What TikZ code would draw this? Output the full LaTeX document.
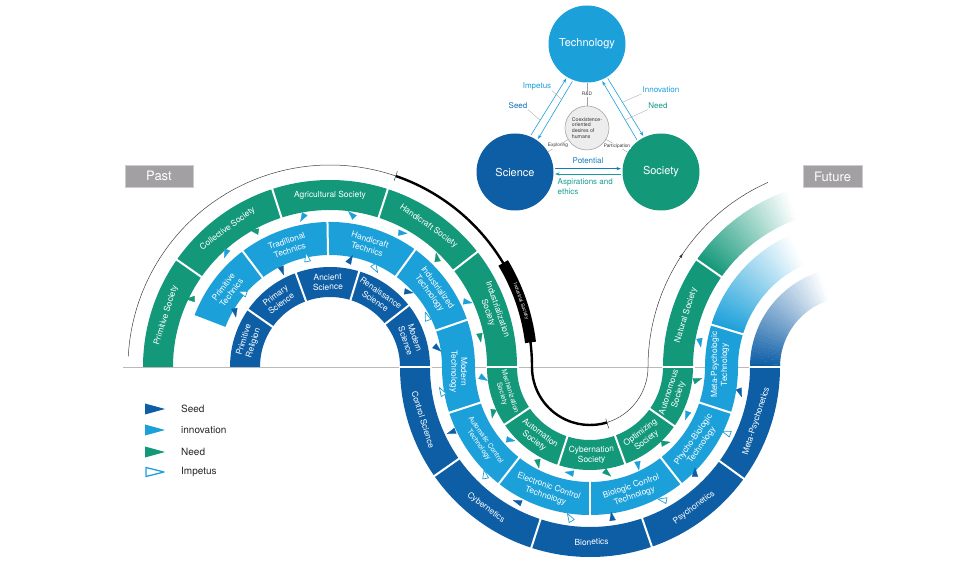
\documentclass[tikz,border=0pt]{standalone}
\usepackage{fontspec}
\setmainfont{TeX Gyre Heros}
\usetikzlibrary{calc,arrows.meta}
\definecolor{socc}{RGB}{20,152,122}
\definecolor{techc}{RGB}{28,160,218}
\definecolor{scic}{RGB}{14,94,166}
\definecolor{pastc}{RGB}{162,160,162}
\newcommand{\ringseg}[6]{\fill[#6] ($(#1)+(#4:#3)$) arc[start angle=#4, end angle=#5, radius=#3] -- ($(#1)+(#5:#2)$) arc[start angle=#5, end angle=#4, radius=#2] -- cycle;}
\newcommand{\ringdiv}[4]{\draw[divider] ($(#1)+(#4:#2-1.5)$) -- ($(#1)+(#4:#3+1.5)$);}
\newcommand{\seglabel}[7][]{\node[ringlab,#1,rotate=#6] (#2) at ($(#3)+(#5:#4)$) {#7};}
\newcommand{\mytri}[4]{\filldraw[#1] (#2,#3) +(#4:5.2) -- +(#4+140:4.6) -- +(#4-140:4.6) -- cycle;}
\begin{document}
\begin{tikzpicture}[x=1pt,y=1pt,
  ringlab/.style={text=white, align=center, inner sep=0pt, font=\fontsize{8.4}{9.9}\selectfont},
  smalllab/.style={font=\fontsize{7}{8.3}\selectfont},
  divider/.style={white, line width=2pt},
  seedtri/.style={fill=scic, draw=scic, line width=0.2pt},
  innotri/.style={fill=techc, draw=techc, line width=0.2pt},
  needtri/.style={fill=socc, draw=socc, line width=0.2pt},
  imptri/.style={fill=white, draw=techc, line width=0.7pt, line join=round},
  bigc/.style={circle, minimum size=77pt, inner sep=0pt, text=white, font=\fontsize{11}{13}\selectfont},
  coexc/.style={circle, minimum size=44pt, inner sep=0pt, fill=gray!14, draw=gray!70, line width=0.6pt, align=left, font=\fontsize{5.2}{5.8}\selectfont, text=black!80},
  tinylab/.style={fill=white, inner sep=0.6pt, font=\fontsize{4.8}{5.5}\selectfont, text=black!80},
  thinln/.style={gray!75, line width=0.4pt},
  conn/.style={techc, line width=0.6pt, -{Stealth[length=4.5pt,width=3.2pt]}, shorten <=1.5pt, shorten >=1.5pt},
  conn2/.style={line width=0.6pt, -{Stealth[length=4.5pt,width=3.2pt]}, shorten <=1.5pt, shorten >=1.5pt},
  lab/.style={inner sep=0.5pt, font=\fontsize{8}{9.5}\selectfont},
  leader/.style={gray!70, line width=0.35pt},
  timebox/.style={fill=pastc, draw=gray!40, line width=0.4pt, text=white, minimum height=22pt, inner sep=0pt, font=\fontsize{13}{15}\selectfont},
  pathln/.style={black!75, line width=0.5pt},
  blackln/.style={black, line width=2.4pt},
  legtext/.style={anchor=west, inner sep=0pt, font=\fontsize{10}{12}\selectfont, text=black!85}
]
\useasboundingbox (0,0) rectangle (980,560);
\coordinate (L) at (330,193);
\coordinate (R) at (590,193);
\coordinate (U) at (850,193);
\coordinate (bl1) at (123,193);
\coordinate (bl2) at (780,193);
\draw[gray!55, line width=0.5pt] (bl1) -- (bl2);

% ---------- full ring sectors ----------
\ringseg{L}{157}{187}{180}{0}{socc}
\ringseg{R}{73}{103}{180}{360}{socc}
\ringseg{U}{157}{187}{180}{145}{socc}
\ringseg{L}{112}{145}{159}{0}{techc}
\ringseg{R}{115}{148}{180}{360}{techc}
\ringseg{U}{112}{145}{180}{163}{techc}
\draw[techc, line width=1.2pt] ($(L)+(0:112)$) -- ($(L)+(0:145)$);
\draw[techc, line width=1.2pt] ($(R)+(0:115)$) -- ($(R)+(0:148)$);
\ringseg{L}{70}{100}{180}{0}{scic}
\ringseg{R}{160}{190}{180}{360}{scic}

% ---------- fading future sectors ----------
\foreach \i in {0,...,39}{
  \pgfmathsetmacro{\aa}{145-\i*0.875}
  \pgfmathsetmacro{\bb}{145-(\i+1)*0.875-0.25}
  \pgfmathtruncatemacro{\pp}{100-\i*2.5}
  \ringseg{U}{157}{187}{\aa}{\bb}{socc!\pp!white}
  \pgfmathsetmacro{\cc}{163-\i*1.2}
  \pgfmathsetmacro{\dd}{163-(\i+1)*1.2-0.25}
  \ringseg{U}{112}{145}{\cc}{\dd}{techc!\pp!white}
  \pgfmathsetmacro{\ee}{180-\i*1.8}
  \pgfmathsetmacro{\ff}{180-(\i+1)*1.8-0.25}
  \ringseg{U}{70}{100}{\ee}{\ff}{scic!\pp!white}
}

% ---------- dividers ----------
\foreach \a in {145,108,72,38,0} {\ringdiv{L}{157}{187}{\a}}
\foreach \a in {127,91,54,19} {\ringdiv{L}{112}{145}{\a}}
\foreach \a in {145,110,73,38,0} {\ringdiv{L}{70}{100}{\a}}
\foreach \a in {214,252,290,325,360} {\ringdiv{R}{73}{103}{\a}}
\foreach \a in {198,232,270,308,342} {\ringdiv{R}{115}{148}{\a}}
\foreach \a in {215,252,289,324,360} {\ringdiv{R}{160}{190}{\a}}
\ringdiv{U}{157}{187}{145}
\ringdiv{U}{112}{145}{163}

% ---------- ring labels ----------
\seglabel{lps}{L}{172}{162.5}{72.5}{Primitive Society}
\seglabel{lcs}{L}{172}{126.5}{36.5}{Collective Society}
\seglabel{lags}{L}{172}{90}{0}{Agricultural Society}
\seglabel{lhs}{L}{172}{55}{-35}{Handicraft Society}
\seglabel{lis}{L}{172}{19}{-71}{Industrialization\\Society}
\seglabel{lpt}{L}{128.5}{143}{53}{Primitive\\Technics}
\seglabel{ltt}{L}{128.5}{109}{19}{Traditional\\Technics}
\seglabel{lht}{L}{128.5}{72.5}{-17.5}{Handicraft\\Technics}
\seglabel{lit}{L}{128.5}{36.5}{-53.5}{Industrialized\\Technology}
\seglabel{lmt}{L}{128.5}{-2}{-90}{Modern\\Technology}
\seglabel{lpr}{L}{85}{162.5}{72.5}{Primitive\\Religion}
\seglabel{lprs}{L}{85}{127.5}{37.5}{Primary\\Science}
\seglabel{lans}{L}{85}{91.5}{1.5}{Ancient\\Science}
\seglabel{lrs}{L}{85}{55.5}{-34.5}{Renaissance\\Science}
\seglabel{lms}{L}{85}{19}{-71}{Modern\\Science}
\seglabel[smalllab]{rms}{R}{88}{197}{-73}{Mechanization\\Society}
\seglabel{ras}{R}{88}{233}{-37}{Automation\\Society}
\seglabel{rcs}{R}{88}{271}{1}{Cybernation\\Society}
\seglabel{ros}{R}{88}{307.5}{37.5}{Optimizing\\Society}
\seglabel{raus}{R}{88}{342.5}{72.5}{Autonomous\\Society}
\seglabel[smalllab]{ract}{R}{131.5}{215}{-55}{Automatic Control\\Technology}
\seglabel{rect}{R}{131.5}{251}{-19}{Electronic Control\\Technology}
\seglabel{rbct}{R}{131.5}{289}{19}{Biologic Control\\Technology}
\seglabel{rpbt}{R}{131.5}{325}{55}{Phycho-Biologic\\Technology}
\seglabel{rmpt}{R}{130}{1}{90}{Meta-Psychologic\\Technology}
\seglabel{rcsc}{R}{175}{197.5}{-72.5}{Control Science}
\seglabel{rcyb}{R}{175}{233.5}{-36.5}{Cybernetics}
\seglabel{rbio}{R}{175}{270.5}{0.5}{Bionetics}
\seglabel{rpsy}{R}{175}{306.5}{36.5}{Psychonetics}
\seglabel{rmps}{R}{175}{342}{72}{Meta-Psychonetics}
\seglabel{uns}{U}{172}{162.5}{72.5}{Natural Society}

% ---------- interaction triangles ----------
\foreach \x/\y/\a in {226/307/-110, 303/343/-120, 352/345/135, 402/327/-5, 467/258/-10, 483/182/-30, 510/120/-10, 570/87/170, 638/95/-80, 687/145/-110, 700/218/-80}{\mytri{innotri}{\x}{\y}{\a}}
\foreach \x/\y/\a in {191/261/180, 255/329/170, 437/302/100, 480/223/-80, 493/147/-100, 538/97/-80, 607/87/-40, 665/117/10, 697/180/20}{\mytri{needtri}{\x}{\y}{\a}}
\foreach \x/\y/\a in {235/248/-80, 282/290/-70, 350/300/60, 408/268/-10, 437/212/-40, 452/128/-160, 518/58/160, 612/43/100, 695/87/90, 740/168/-70}{\mytri{seedtri}{\x}{\y}{\a}}
\foreach \x/\y/\a in {243/267/160, 307/302/100, 375/292/-60, 427/243/110, 442/168/120, 485/85/100, 570/42/120, 663/60/170, 727/127/160}{\mytri{imptri}{\x}{\y}{\a}}

% ---------- time path ----------
\draw[pathln] ($(L)+(177:202)$) arc[start angle=177, end angle=71, radius=202];
\draw[blackln] ($(L)+(71:202)$) arc[start angle=71, end angle=0, radius=202] arc[start angle=180, end angle=287, radius=58];
\draw[pathln] ($(R)+(287:58)$) arc[start angle=287, end angle=360, radius=58] arc[start angle=180, end angle=114, radius=202];
\draw[pathln] ($(L)+(71:197)$) -- ($(L)+(71:207)$);
\draw[pathln] ($(R)+(287:54)$) -- ($(R)+(287:64)$);
\coordinate (mk) at ($(U)+(146.6:202)$);
\fill[black!80] (mk) +(56.6:2.6) -- +(196.6:2.2) -- +(-83.4:2.2) -- cycle;
\draw[black, line width=11pt] ($(L)+(31:202)$) arc[start angle=31, end angle=7, radius=202];
\node[text=white, inner sep=0pt, rotate=-71, font=\fontsize{5}{6}\selectfont] (indsoc) at ($(L)+(19:202)$) {Industrial Society};

% ---------- Past / Future ----------
\node[timebox, minimum width=68pt] (past) at (159,384) {Past};
\node[timebox, minimum width=59pt] (future) at (832.5,383.5) {Future};

% ---------- top triangle diagram ----------
\node[bigc, fill=techc] (tech) at (587,516) {Technology};
\node[bigc, fill=scic] (sci) at (515,388) {Science};
\node[bigc, fill=socc] (soc) at (661,388) {Society};
\node[coexc] (coex) at (587,432) {Coexistence-\\oriented\\desires of\\humans};
\draw[thinln] (coex) -- (tech) node[pos=0.5, tinylab] (rd) {R\&D};
\draw[thinln] (coex) -- (sci) node[pos=0.5, tinylab] (expl) {Exploring};
\draw[thinln] (coex) -- (soc) node[pos=0.5, tinylab] (part) {Participation};

\draw[conn] (sci.67) -- (tech.239);
\draw[conn] (tech.249) -- (sci.55);
\draw[conn] (tech.301) -- (soc.116);
\draw[conn] (soc.127) -- (tech.292);
\draw[conn2, scic!55!techc] (sci.5) -- (soc.175);
\draw[conn2, socc!60!techc] (soc.183) -- (sci.-3);

\node[lab, text=techc] (impl) at (537,474) {Impetus};
\node[lab, text=scic!75!techc] (seedl) at (518,454) {Seed};
\node[lab, text=techc] (innl) at (661,470) {Innovation};
\node[lab, text=socc!85!techc] (needl) at (658,454) {Need};
\coordinate (impe) at (562,460);
\coordinate (seede) at (540,440);
\coordinate (inne) at (623,458);
\coordinate (neede) at (625,440);
\draw[leader] (impl.south east) -- (impe);
\draw[leader] (seedl.south east) -- (seede);
\draw[leader] (innl.south west) -- (inne);
\draw[leader] (needl.south west) -- (neede);
\node[lab, text=scic!55!techc] (potl) at (588,399) {Potential};
\node[lab, text=socc!75!techc, anchor=north west, align=left] (aspl) at (557,382) {Aspirations and\\ethics};

% ---------- legend ----------
\fill[scic] (145,156.5) -- (165,151) -- (145,145.5) -- cycle;
\fill[techc] (145,135.5) -- (165,130) -- (145,124.5) -- cycle;
\fill[socc] (145,113.5) -- (165,108) -- (145,102.5) -- cycle;
\draw[techc, fill=white, line width=1.3pt, line join=round] (146,92.5) -- (164,88) -- (146,83.5) -- cycle;
\node[legtext] (lg1) at (181,151) {Seed};
\node[legtext] (lg2) at (181,130) {innovation};
\node[legtext] (lg3) at (181,108) {Need};
\node[legtext] (lg4) at (181,88) {Impetus};
\end{tikzpicture}
\end{document}
